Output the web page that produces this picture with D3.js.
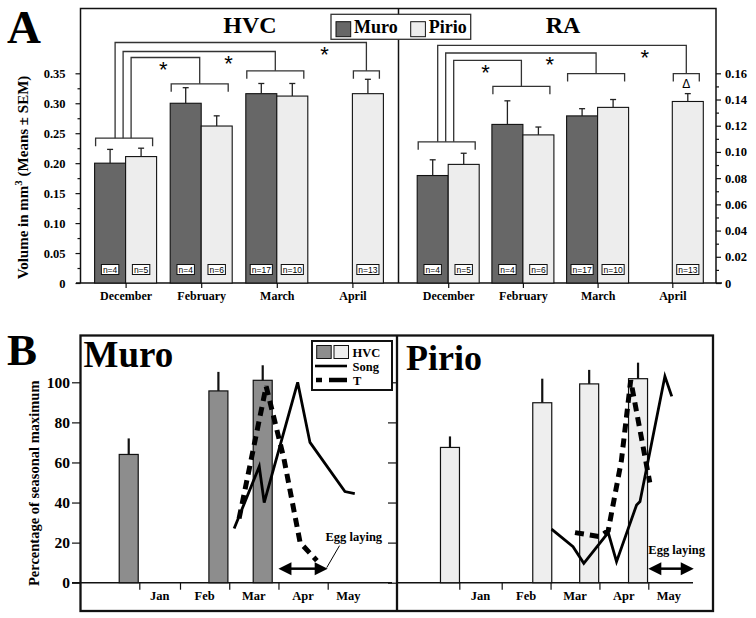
<!DOCTYPE html>
<html><head><meta charset="utf-8">
<script src="https://cdn.jsdelivr.net/npm/d3@7"></script>
<style>
body{margin:0;background:#fff}
svg{display:block;background:#fff}
</style>
</head><body>
<svg id="c" width="756" height="618"></svg>
<script>
// ---------------- DATA ----------------
// Panel A
const categoriesA = ["December", "February", "March", "April"];
const seriesA = ["Muro", "Pirio"];
const hvcMuro = [0.200, 0.300, 0.316, null];
const hvcMuroSem = [0.023, 0.026, 0.017, null];
const hvcPirio = [0.211, 0.262, 0.312, 0.316];
const hvcPirioSem = [0.014, 0.017, 0.021, 0.024];
const raMuro = [0.082, 0.121, 0.1275, null];
const raMuroSem = [0.012, 0.018, 0.0055, null];
const raPirio = [0.0905, 0.113, 0.134, 0.1385];
const raPirioSem = [0.0085, 0.006, 0.006, 0.006];
const nMuro = [4, 4, 17, null];
const nPirio = [5, 6, 10, 13];
const hvcTicks = [0, 0.05, 0.10, 0.15, 0.20, 0.25, 0.30, 0.35];
const raTicks = [0, 0.02, 0.04, 0.06, 0.08, 0.10, 0.12, 0.14, 0.16];
// significance brackets (value units) : bracket level per category, link level Dec->Feb, Dec->Mar, Dec->Apr
const hvcBracketLevel = [0.2417, 0.3324, 0.3542, 0.3542];
const hvcLinkLevel = [0.3764, 0.3864, 0.4014];
const raBracketLevel = [0.1077, 0.1501, 0.1598, 0.1598];
const raLinkLevel = [0.1699, 0.1755, 0.1813];
const starMarks = ["*", "*", "*"];
const starPos = [0.5, 1.36, 2.63];
const raAprilMark = "Δ";

// Panel B
const monthsB = ["Jan", "Feb", "Mar", "Apr", "May"];
const monthLabelPos = [1.5, 2.5, 3.5, 4.5, 5.42];
const pctTicks = [0, 20, 40, 60, 80, 100];
const muroHvcMonth = [0.74, 2.78, 3.68];
const muroHvcPct = [64, 95.7, 101];
const muroHvcErr = [8, 9.5, 7.5];
const pirioHvcMonth = [0.78, 2.83, 3.79, 4.79];
const pirioHvcPct = [67.5, 89.8, 99.2, 101.8];
const pirioHvcErr = [5.5, 12, 7, 8];
const muroSongMonth = [3.10, 3.61, 3.71, 4.39, 4.64, 5.35, 5.55];
const muroSongPct = [27, 58, 40, 100, 70, 45.5, 44.5];
const muroTMonth = [3.20, 3.75, 4.11, 4.44, 4.78];
const muroTPct = [32, 98, 62, 20, 11];
const pirioSongMonth = [3.02, 3.46, 3.68, 4.18, 4.35, 4.76, 4.83, 5.34, 5.48];
const pirioSongPct = [26.7, 18, 9.7, 25, 10.5, 38.8, 40.5, 103, 93];
const pirioTMonth = [3.50, 4.01, 4.18, 4.45, 4.64, 5.03];
const pirioTPct = [25, 23, 26, 61, 101, 50];
const muroEgg = [4, 5];
const pirioEgg = [5, 5.93];
const eggLevel = 7;

// ---------------- DRAW ----------------
const serif = '"Liberation Serif","Times New Roman",serif';
const sans = '"Liberation Sans",Arial,sans-serif';
const svg = d3.select("#c");
const colA = {Muro: "#676767", Pirio: "#ededed"};
const colB = {Muro: "#8d8d8d", Pirio: "#eeeeee"};

function txt(g, s, x, y, size, opts = {}) {
  return g.append("text").attr("x", x).attr("y", y).text(s)
    .attr("font-family", opts.family || serif).attr("font-weight", opts.weight || "bold")
    .attr("font-size", size).attr("text-anchor", opts.anchor || "start").attr("fill", "#000");
}

// ===== Panel A =====
const yTop = 8.5, yBase = 283, yMax = 73.3;
const yHvc = d3.scaleLinear().domain([0, 0.35]).range([yBase, yMax]);
const yRa = d3.scaleLinear().domain([0, 0.16]).range([yBase, yMax]);
const gA = svg.append("g");

// frame
gA.append("path").attr("d", `M80.5,${yBase}V${yTop}H716V${yBase}`).attr("fill", "none").attr("stroke", "#111").attr("stroke-width", 1.5);
gA.append("line").attr("x1", 398.5).attr("x2", 398.5).attr("y1", yTop).attr("y2", yBase).attr("stroke", "#111").attr("stroke-width", 1.5);
gA.append("line").attr("x1", 76).attr("x2", 722).attr("y1", yBase).attr("y2", yBase).attr("stroke", "#111").attr("stroke-width", 1.5);

function minors(ticks) {
  const r = [];
  for (let i = 0; i < ticks.length - 1; i++) r.push((ticks[i] + ticks[i + 1]) / 2);
  return r;
}
const fmtA = d => d === 0 ? "0" : d3.format(".2f")(d);
function styleAxis(g, size) {
  g.select(".domain").remove();
  g.selectAll("line").attr("stroke", "#111").attr("stroke-width", 1.2);
  g.selectAll("text").attr("font-family", serif).attr("font-weight", "bold").attr("font-size", size).attr("fill", "#000");
}
// left axis
gA.append("g").attr("transform", "translate(80.5,0)")
  .call(d3.axisLeft(yHvc).tickValues(hvcTicks).tickSize(5).tickPadding(10).tickFormat(fmtA))
  .call(g => styleAxis(g, 12.5));
gA.append("g").attr("transform", "translate(80.5,0)")
  .call(d3.axisLeft(yHvc).tickValues(minors(hvcTicks)).tickSize(3).tickFormat(""))
  .call(g => styleAxis(g, 10));
// right axis
gA.append("g").attr("transform", "translate(716,0)")
  .call(d3.axisRight(yRa).tickValues(raTicks).tickSize(5).tickPadding(4).tickFormat(fmtA))
  .call(g => styleAxis(g, 12.5));
gA.append("g").attr("transform", "translate(716,0)")
  .call(d3.axisRight(yRa).tickValues(minors(raTicks)).tickSize(3).tickFormat(""))
  .call(g => styleAxis(g, 10));

function drawA(o) {
  const x = d3.scaleLinear().domain([0, categoriesA.length - 1]).range(o.range);
  const inner = d3.scaleBand().domain(seriesA).range([-31, 31]);
  const bw = inner.bandwidth();
  const y = o.y;
  const g = gA.append("g");
  // category axis
  g.append("g").attr("transform", `translate(0,${yBase})`)
    .call(d3.axisBottom(x).tickValues(d3.range(categoriesA.length)).tickSize(5).tickPadding(3).tickFormat(i => categoriesA[i]))
    .call(a => styleAxis(a, 12));
  const data = [];
  categoriesA.forEach((c, i) => {
    [[o.muro, o.muroSem, nMuro, "Muro"], [o.pirio, o.pirioSem, nPirio, "Pirio"]].forEach(([v, s, n, ser]) => {
      if (v[i] != null) data.push({i, ser, v: v[i], s: s[i], n: n[i]});
    });
  });
  g.selectAll("rect.bar").data(data).join("rect").attr("class", "bar")
    .attr("x", d => x(d.i) + inner(d.ser)).attr("y", d => y(d.v))
    .attr("width", bw).attr("height", d => y(0) - y(d.v))
    .attr("fill", d => colA[d.ser]).attr("stroke", "#111").attr("stroke-width", 1.1);
  // error bars
  const eb = g.selectAll("g.eb").data(data).join("g").attr("class", "eb");
  eb.append("line").attr("x1", d => x(d.i) + inner(d.ser) + bw / 2).attr("x2", d => x(d.i) + inner(d.ser) + bw / 2)
    .attr("y1", d => y(d.v)).attr("y2", d => y(d.v + d.s)).attr("stroke", "#222").attr("stroke-width", 1.3);
  eb.append("line").attr("x1", d => x(d.i) + inner(d.ser) + bw / 2 - 3).attr("x2", d => x(d.i) + inner(d.ser) + bw / 2 + 3)
    .attr("y1", d => y(d.v + d.s)).attr("y2", d => y(d.v + d.s)).attr("stroke", "#222").attr("stroke-width", 1.3);
  // n labels
  data.forEach(d => {
    const cx = x(d.i) + inner(d.ser) + bw / 2;
    const r = g.append("rect");
    const t = txt(g, "n=" + d.n, cx, 273, 8.5, {family: sans, weight: "normal", anchor: "middle"});
    const w = t.node().getComputedTextLength();
    r.attr("x", cx - w / 2 - 1.5).attr("y", 264.5).attr("width", w + 3).attr("height", 10)
      .attr("fill", "#fff").attr("stroke", "#111").attr("stroke-width", 1);
  });
  // brackets
  const centers = [];
  categoriesA.forEach((c, i) => {
    const left = (o.muro[i] != null ? x(i) - bw : x(i)) + 1;
    const right = x(i) + bw - 4;
    const yb = y(o.bracket[i]);
    g.append("path").attr("d", `M${left},${yb + 8}V${yb}H${right}V${yb + 8}`)
      .attr("fill", "none").attr("stroke", "#333").attr("stroke-width", 1.3);
    centers.push((left + right) / 2);
  });
  const offs = [7, -1, -9];
  o.link.forEach((lv, k) => {
    const sx = centers[0] + offs[k];
    const tx = centers[k + 1];
    g.append("path").attr("d", `M${sx},${y(o.bracket[0])}V${y(lv)}H${tx}V${y(o.bracket[k + 1])}`)
      .attr("fill", "none").attr("stroke", "#333").attr("stroke-width", 1.3);
    txt(g, starMarks[k], x(starPos[k]), y(lv) + 7 + 12.5, 22, {family: sans, weight: "normal", anchor: "middle"});
  });
  if (o.mark) {
    txt(g, o.mark, centers[3], y(o.bracket[3]) + 10 + 4, 12, {family: sans, weight: "normal", anchor: "middle"});
  }
  txt(g, o.title, o.titleX, 33, 24, {anchor: "middle"});
}
drawA({range: [125.6, 352.4], y: yHvc, muro: hvcMuro, muroSem: hvcMuroSem, pirio: hvcPirio, pirioSem: hvcPirioSem,
  bracket: hvcBracketLevel, link: hvcLinkLevel, title: "HVC", titleX: 250});
drawA({range: [448.2, 672.3], y: yRa, muro: raMuro, muroSem: raMuroSem, pirio: raPirio, pirioSem: raPirioSem,
  bracket: raBracketLevel, link: raLinkLevel, title: "RA", titleX: 563, mark: raAprilMark});

// legend A
const lgA = gA.append("g");
lgA.append("rect").attr("x", 331).attr("y", 14.3).attr("width", 139.7).attr("height", 25).attr("fill", "#fff").attr("stroke", "#333").attr("stroke-width", 1.3);
seriesA.forEach((s, i) => {
  const lx = 336 + i * 74.7;
  lgA.append("rect").attr("x", lx).attr("y", 21.7).attr("width", 14.7).attr("height", 15).attr("fill", colA[s]).attr("stroke", "#111").attr("stroke-width", 1);
  txt(lgA, s, lx + 18, 32.5, 18);
});
// A label & y title
txt(gA, "A", 7, 42.7, 47);
const ylA = gA.append("text").attr("transform", "translate(27.5,177.5) rotate(-90)").attr("text-anchor", "middle")
  .attr("font-family", serif).attr("font-weight", "bold").attr("font-size", 15);
ylA.append("tspan").text("Volume in mm");
ylA.append("tspan").text("3").attr("baseline-shift", "super").attr("font-size", 11);
ylA.append("tspan").text(" (Means ± SEM)");

// ===== Panel B =====
const yB = d3.scaleLinear().domain([0, 100]).range([582.7, 382.3]);
const gB = svg.append("g");
gB.append("rect").attr("x", 80.5).attr("y", 335.5).attr("width", 632.5).attr("height", 275.5).attr("fill", "none").attr("stroke", "#111").attr("stroke-width", 2.3);
gB.append("line").attr("x1", 397).attr("x2", 397).attr("y1", 335.5).attr("y2", 611).attr("stroke", "#111").attr("stroke-width", 2.3);
// baselines
gB.append("line").attr("x1", 72).attr("x2", 392).attr("y1", yB(0)).attr("y2", yB(0)).attr("stroke", "#111").attr("stroke-width", 1.4);
gB.append("line").attr("x1", 397).attr("x2", 693).attr("y1", yB(0)).attr("y2", yB(0)).attr("stroke", "#111").attr("stroke-width", 1.4);
// y axis
gB.append("g").attr("transform", "translate(81,0)")
  .call(d3.axisLeft(yB).tickValues(pctTicks).tickSize(9).tickPadding(2))
  .call(g => styleAxis(g, 15.5));
gB.append("g").attr("transform", "translate(397,0)")
  .call(d3.axisLeft(yB).tickValues(pctTicks).tickSize(9).tickFormat(""))
  .call(g => styleAxis(g, 10));

function drawB(o) {
  const x = d3.scaleLinear().domain([1, 2, 5]).range(o.range);
  const g = gB.append("g");
  g.append("g").attr("transform", `translate(0,${yB(0)})`)
    .call(d3.axisBottom(x).tickValues([1, 2, 3, 4, 5]).tickSize(7).tickFormat(""))
    .call(a => styleAxis(a, 10));
  monthsB.forEach((m, i) => txt(g, m, x(monthLabelPos[i]), 599.5, 12.5, {anchor: "middle"}));
  const bars = o.month.map((m, i) => ({m, p: o.pct[i], e: o.err[i]}));
  const bw = 19;
  g.selectAll("rect.hb").data(bars).join("rect").attr("class", "hb")
    .attr("x", d => x(d.m) - bw / 2).attr("y", d => yB(d.p)).attr("width", bw).attr("height", d => yB(0) - yB(d.p))
    .attr("fill", o.fill).attr("stroke", "#111").attr("stroke-width", 1.2);
  g.selectAll("line.he").data(bars).join("line").attr("class", "he")
    .attr("x1", d => x(d.m)).attr("x2", d => x(d.m)).attr("y1", d => yB(d.p)).attr("y2", d => yB(d.p + d.e))
    .attr("stroke", "#111").attr("stroke-width", 2.2);
  const line = d3.line().x(d => x(d[0])).y(d => yB(d[1]));
  g.append("path").attr("d", line(o.songM.map((m, i) => [m, o.songP[i]])))
    .attr("fill", "none").attr("stroke", "#000").attr("stroke-width", 2.8).attr("stroke-linejoin", "miter");
  g.append("path").attr("d", line(o.tM.map((m, i) => [m, o.tP[i]])))
    .attr("fill", "none").attr("stroke", "#000").attr("stroke-width", 5).attr("stroke-dasharray", "9,6");
  // egg laying
  const ey = yB(eggLevel), x0 = x(o.egg[0]), x1 = x(o.egg[1]);
  g.append("line").attr("x1", x0 + 10).attr("x2", x1 - 10).attr("y1", ey).attr("y2", ey).attr("stroke", "#000").attr("stroke-width", 2.5);
  g.append("path").attr("d", `M${x0},${ey}L${x0 + 13},${ey - 6.5}L${x0 + 13},${ey + 6.5}Z`).attr("fill", "#000");
  g.append("path").attr("d", `M${x1},${ey}L${x1 - 13},${ey - 6.5}L${x1 - 13},${ey + 6.5}Z`).attr("fill", "#000");
  txt(g, "Egg laying", x(o.eggLabel[0]), yB(o.eggLabel[1]), 12.5, {anchor: "middle"});
  if (o.leader) {
    g.append("line").attr("x1", x(o.leader[0])).attr("y1", yB(o.leader[1])).attr("x2", x(o.leader[2])).attr("y2", yB(o.leader[3]))
      .attr("stroke", "#000").attr("stroke-width", 1);
  }
  txt(g, o.title, o.titleX, o.titleY, o.titleSize);
}
drawB({range: [139.3, 180, 327.7], month: muroHvcMonth, pct: muroHvcPct, err: muroHvcErr, fill: colB.Muro,
  songM: muroSongMonth, songP: muroSongPct, tM: muroTMonth, tP: muroTPct, egg: muroEgg,
  eggLabel: [5.53, 21], leader: [5.24, 18.5, 4.98, 7.5], title: "Muro", titleX: 83.5, titleY: 367, titleSize: 37});
drawB({range: [459.3, 501.7, 648.3], month: pirioHvcMonth, pct: pirioHvcPct, err: pirioHvcErr, fill: colB.Pirio,
  songM: pirioSongMonth, songP: pirioSongPct, tM: pirioTMonth, tP: pirioTPct, egg: pirioEgg,
  eggLabel: [5.58, 14.5], title: "Pirio", titleX: 406, titleY: 370, titleSize: 36});

// legend B
const lgB = gB.append("g");
lgB.append("rect").attr("x", 312).attr("y", 341).attr("width", 80).attr("height", 49).attr("fill", "#fff").attr("stroke", "#111").attr("stroke-width", 2);
lgB.append("rect").attr("x", 316.7).attr("y", 345.5).attr("width", 14.5).attr("height", 13).attr("fill", colB.Muro).attr("stroke", "#111").attr("stroke-width", 1);
lgB.append("rect").attr("x", 334).attr("y", 345.5).attr("width", 14.5).attr("height", 13).attr("fill", colB.Pirio).attr("stroke", "#111").attr("stroke-width", 1);
txt(lgB, "HVC", 352.5, 357, 12.5);
lgB.append("line").attr("x1", 315).attr("x2", 347).attr("y1", 366).attr("y2", 366).attr("stroke", "#000").attr("stroke-width", 2.6);
txt(lgB, "Song", 352.5, 371, 12.5);
lgB.append("line").attr("x1", 316).attr("x2", 347).attr("y1", 380).attr("y2", 380).attr("stroke", "#000").attr("stroke-width", 4.5).attr("stroke-dasharray", "6,7,18");
txt(lgB, "T", 353, 385, 12.5);

txt(gB, "B", 7, 365, 45);
gB.append("text").attr("transform", "translate(39,483.3) rotate(-90)").attr("text-anchor", "middle")
  .attr("font-family", serif).attr("font-weight", "bold").attr("font-size", 14.5).text("Percentage of seasonal maximum");
</script>
</body></html>
